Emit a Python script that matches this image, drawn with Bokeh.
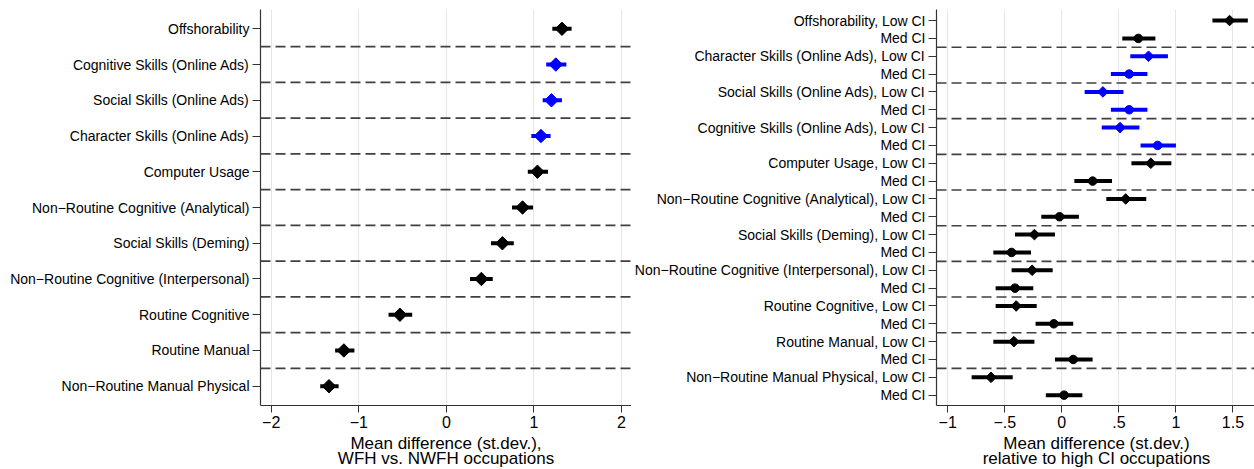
import math
from bokeh.plotting import figure
from bokeh.layouts import row
from bokeh.models import Range1d, FixedTicker, Span, ColumnDataSource
from bokeh.embed import file_html
from bokeh.resources import INLINE

# ---- Panel 1: WFH vs. NWFH occupations (mean difference, st.dev.) ----
wfh_measures = [
    "Offshorability",
    "Cognitive Skills (Online Ads)",
    "Social Skills (Online Ads)",
    "Character Skills (Online Ads)",
    "Computer Usage",
    "Non\u2212Routine Cognitive (Analytical)",
    "Social Skills (Deming)",
    "Non\u2212Routine Cognitive (Interpersonal)",
    "Routine Cognitive",
    "Routine Manual",
    "Non\u2212Routine Manual Physical",
]
wfh_est = [1.32, 1.25, 1.20, 1.08, 1.04, 0.87, 0.64, 0.40, -0.53, -1.17, -1.34]
wfh_lo = [1.21, 1.14, 1.10, 0.97, 0.93, 0.75, 0.51, 0.27, -0.66, -1.27, -1.44]
wfh_hi = [1.43, 1.37, 1.32, 1.19, 1.16, 0.99, 0.77, 0.53, -0.39, -1.05, -1.23]
wfh_xticks = [-2, -1, 0, 1, 2]
wfh_xtick_labels = ["\u22122", "\u22121", "0", "1", "2"]

# ---- Panel 2: low / medium CI occupations relative to high CI ----
ci_measures = [
    "Offshorability",
    "Character Skills (Online Ads)",
    "Social Skills (Online Ads)",
    "Cognitive Skills (Online Ads)",
    "Computer Usage",
    "Non\u2212Routine Cognitive (Analytical)",
    "Social Skills (Deming)",
    "Non\u2212Routine Cognitive (Interpersonal)",
    "Routine Cognitive",
    "Routine Manual",
    "Non\u2212Routine Manual Physical",
]
low_est = [1.47, 0.76, 0.36, 0.51, 0.78, 0.56, -0.24, -0.26, -0.40, -0.42, -0.62]
low_lo = [1.32, 0.60, 0.20, 0.35, 0.61, 0.39, -0.41, -0.44, -0.58, -0.60, -0.79]
low_hi = [1.63, 0.93, 0.54, 0.68, 0.96, 0.74, -0.06, -0.08, -0.22, -0.24, -0.43]
med_est = [0.67, 0.59, 0.59, 0.84, 0.27, -0.02, -0.44, -0.41, -0.07, 0.10, 0.02]
med_lo = [0.53, 0.43, 0.43, 0.69, 0.11, -0.18, -0.60, -0.58, -0.23, -0.06, -0.14]
med_hi = [0.82, 0.75, 0.75, 1.00, 0.44, 0.15, -0.27, -0.25, 0.10, 0.27, 0.18]
ci_xticks = [-1, -0.5, 0, 0.5, 1, 1.5]
ci_xtick_labels = ["\u22121", "\u2212.5", "0", ".5", "1", "1.5"]

FONT = "Liberation Sans"
BLACK = "#000000"
BLUE = "#0000ff"
SEP = "#404040"
AXIS = "#333333"
GRID = "#e6e6e6"


def tone(label):
    return BLUE if "Online Ads" in label else BLACK


def style(p, xticks, xlabels, yticks, ylabels, title):
    p.outline_line_color = None
    p.background_fill_color = "white"
    p.border_fill_color = "white"
    p.ygrid.grid_line_color = None
    p.xgrid.grid_line_color = GRID
    p.xgrid.grid_line_width = 1

    p.xaxis.ticker = FixedTicker(ticks=xticks)
    p.xaxis.major_label_overrides = {t: s for t, s in zip(xticks, xlabels)}
    p.xaxis.minor_tick_line_color = None
    p.xaxis.major_tick_out = 7
    p.xaxis.major_tick_in = 0
    p.xaxis.major_label_standoff = 3
    p.xaxis.major_label_text_font = FONT
    p.xaxis.major_label_text_font_size = "16px"
    p.xaxis.major_label_text_color = BLACK
    p.xaxis.axis_label = title
    p.xaxis.axis_label_text_font = FONT
    p.xaxis.axis_label_text_font_size = "17px"
    p.xaxis.axis_label_text_font_style = "normal"
    p.xaxis.axis_label_text_color = BLACK
    p.xaxis.axis_label_standoff = 3
    p.xaxis.axis_label_text_line_height = 0.8

    p.yaxis.ticker = FixedTicker(ticks=yticks)
    p.yaxis.major_label_overrides = {t: s for t, s in zip(yticks, ylabels)}
    p.yaxis.minor_tick_line_color = None
    p.yaxis.major_tick_out = 8
    p.yaxis.major_tick_in = 0
    p.yaxis.major_label_standoff = 3
    p.yaxis.major_label_text_font = FONT
    p.yaxis.major_label_text_font_size = "14px"
    p.yaxis.major_label_text_color = BLACK

    for ax in (p.xaxis, p.yaxis):
        ax.axis_line_color = AXIS
        ax.axis_line_width = 1.2
        ax.major_tick_line_color = AXIS
        ax.major_tick_line_width = 1


# ---------------- left panel ----------------
n1 = len(wfh_measures)
y1 = list(range(1, n1 + 1))
p1 = figure(
    frame_width=371, frame_height=396,
    x_range=Range1d(-2.122, 2.114), y_range=Range1d(n1 + 0.54, 0.46),
    output_backend="svg", toolbar_location=None,
    min_border_left=260, min_border_right=0, min_border_top=9, min_border_bottom=60,
)
style(p1, wfh_xticks, wfh_xtick_labels, y1, wfh_measures,
      "Mean difference (st.dev.),\nWFH vs. NWFH occupations")

for k in range(1, n1):
    p1.add_layout(Span(location=k + 0.5, dimension="width", line_color=SEP,
                       line_width=1.6, line_dash="10 5"))

src1 = ColumnDataSource(dict(
    y=y1, est=wfh_est, lo=wfh_lo, hi=wfh_hi,
    color=[tone(m) for m in wfh_measures],
))
p1.segment(x0="lo", x1="hi", y0="y", y1="y", line_color="color",
           line_width=4, source=src1)
p1.scatter(x="est", y="y", marker="square", angle=math.pi / 4, size=9.5,
           fill_color="color", line_color="color", source=src1)

# ---------------- right panel ----------------
n2 = len(ci_measures)
y_low = [2 * i + 1 for i in range(n2)]
y_med = [2 * i + 2 for i in range(n2)]
y2 = []
y2_labels = []
for i, m in enumerate(ci_measures):
    y2 += [y_low[i], y_med[i]]
    y2_labels += [m + ", Low CI", "Med CI"]

p2 = figure(
    frame_width=320, frame_height=396,
    x_range=Range1d(-1.098, 1.706), y_range=Range1d(2 * n2 + 0.58, 0.38),
    output_backend="svg", toolbar_location=None,
    min_border_left=303, min_border_right=0, min_border_top=9, min_border_bottom=60,
)
style(p2, ci_xticks, ci_xtick_labels, y2, y2_labels,
      "Mean difference (st.dev.)\nrelative to high CI occupations")

for k in range(1, n2):
    p2.add_layout(Span(location=2 * k + 0.5, dimension="width", line_color=SEP,
                       line_width=1.6, line_dash="10 5"))

colors2 = [tone(m) for m in ci_measures]
src_low = ColumnDataSource(dict(y=y_low, est=low_est, lo=low_lo, hi=low_hi, color=colors2))
src_med = ColumnDataSource(dict(y=y_med, est=med_est, lo=med_lo, hi=med_hi, color=colors2))

for src in (src_low, src_med):
    p2.segment(x0="lo", x1="hi", y0="y", y1="y", line_color="color",
               line_width=4, source=src)
p2.scatter(x="est", y="y", marker="square", angle=math.pi / 4, size=7.5,
           fill_color="color", line_color="color", source=src_low)
p2.scatter(x="est", y="y", marker="circle", size=8.5,
           fill_color="color", line_color="color", source=src_med)

layout = row(p1, p2, spacing=0)
open("out.html", "w").write(file_html(layout, INLINE))
